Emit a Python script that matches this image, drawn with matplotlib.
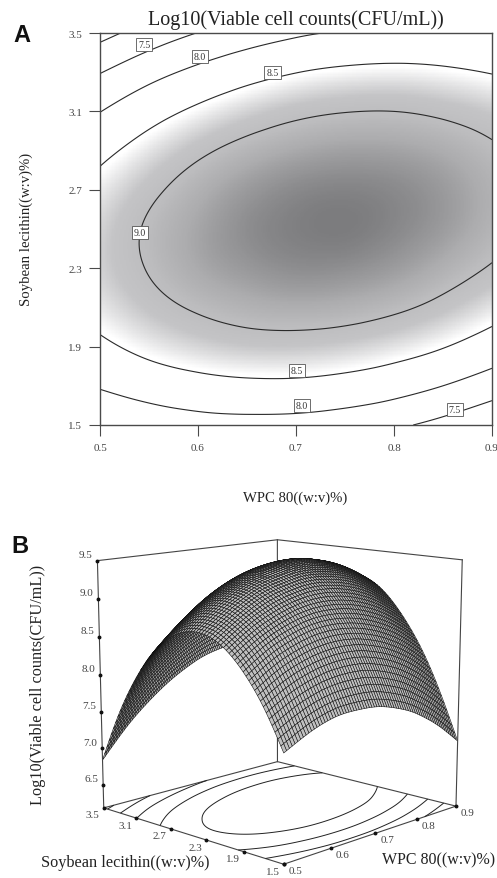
import numpy as np
import matplotlib
matplotlib.use('Agg')
import matplotlib.pyplot as plt
import matplotlib.tri as mtri
from matplotlib.colors import LinearSegmentedColormap
from mpl_toolkits.mplot3d import proj3d

plt.rcParams['font.family'] = ['Liberation Serif', 'DejaVu Serif']

W, H = 497, 879

# values, rows are wpc, columns are lecithin
wpc = [0.50, 0.55, 0.60, 0.65, 0.70, 0.75, 0.80, 0.85, 0.90]
lecithin = [1.5, 1.7, 1.9, 2.1, 2.3, 2.5, 2.7, 2.9, 3.1, 3.3, 3.5]
counts = [
    [7.54, 8.04, 8.41, 8.66, 8.78, 8.77, 8.64, 8.38, 7.99, 7.48, 6.84],
    [7.70, 8.22, 8.62, 8.88, 9.02, 9.04, 8.92, 8.68, 8.32, 7.83, 7.21],
    [7.81, 8.34, 8.76, 9.04, 9.21, 9.24, 9.15, 8.93, 8.58, 8.11, 7.51],
    [7.84, 8.40, 8.84, 9.14, 9.32, 9.38, 9.31, 9.11, 8.78, 8.33, 7.75],
    [7.82, 8.40, 8.85, 9.18, 9.38, 9.45, 9.40, 9.22, 8.92, 8.49, 7.93],
    [7.73, 8.33, 8.80, 9.15, 9.37, 9.47, 9.43, 9.27, 8.99, 8.58, 8.04],
    [7.58, 8.20, 8.69, 9.06, 9.30, 9.41, 9.40, 9.26, 9.00, 8.61, 8.09],
    [7.36, 8.00, 8.52, 8.90, 9.16, 9.30, 9.31, 9.19, 8.94, 8.57, 8.08],
    [7.08, 7.74, 8.28, 8.68, 8.97, 9.12, 9.15, 9.05, 8.83, 8.48, 8.00],
]
levels = [7.0, 7.5, 8.0, 8.5, 9.0]
wpc_ticks = [0.5, 0.6, 0.7, 0.8, 0.9]
lecithin_ticks = [1.5, 1.9, 2.3, 2.7, 3.1, 3.5]
count_ticks = [6.5, 7.0, 7.5, 8.0, 8.5, 9.0, 9.5]
# contour labels: value, wpc, lecithin
label_vals = [7.5, 8.0, 8.5, 9.0, 8.5, 8.0, 7.5]
label_wpc = [0.545, 0.602, 0.676, 0.541, 0.701, 0.706, 0.862]
label_lec = [3.44, 3.38, 3.30, 2.48, 1.78, 1.60, 1.58]

TITLE = 'Log10(Viable cell counts(CFU/mL))'
GREY = '#4a4a4a'


def fx(px):
    return px / W


def fy(py):
    return 1 - py / H


# smooth the read table with matplotlib's own cubic interpolator
gx, gy = np.meshgrid(wpc, lecithin, indexing='ij')
tri = mtri.Triangulation(gx.ravel(), gy.ravel())
interp = mtri.CubicTriInterpolator(tri, np.array(counts).ravel(), kind='min_E')


def fine_grid(n):
    xs = np.linspace(wpc[0] + 1e-6, wpc[-1] - 1e-6, n)
    ys = np.linspace(lecithin[0] + 1e-6, lecithin[-1] - 1e-6, n)
    X, Y = np.meshgrid(xs, ys)
    return X, Y, np.ma.filled(interp(X, Y), np.nan)


fig = plt.figure(figsize=(W / 100, H / 100), dpi=100)

# panel A
ax = fig.add_axes([fx(100), fy(426), fx(392), 392 / H])
X, Y, Z = fine_grid(300)
cmap = LinearSegmentedColormap.from_list('shade', [
    (0.0, '#ffffff'), (0.09, '#ffffff'), (0.24, '#e2e2e3'), (0.40, '#c4c4c6'),
    (0.58, '#bcbcbe'), (0.74, '#acacae'), (0.88, '#949496'), (1.0, '#7c7c7e')])
ax.pcolormesh(X, Y, Z, cmap=cmap, vmin=8.45, vmax=9.47, shading='auto', rasterized=True)
ax.contour(X, Y, Z, levels=levels, colors='#2a2a2a', linewidths=0.8)
for val, lx, ly in zip(label_vals, label_wpc, label_lec):
    ax.text(lx, ly, f'{val:.1f}', ha='center', va='center', fontsize=7, color='#333333',
            bbox=dict(facecolor='white', edgecolor='#555555', linewidth=0.6, pad=1.5), zorder=5)
ax.set_xlim(0.5, 0.9)
ax.set_ylim(1.5, 3.5)
ax.set_xticks(wpc_ticks)
ax.set_yticks(lecithin_ticks)
ax.set_xticklabels([f'{t:.1f}' for t in wpc_ticks], clip_on=False)
ax.set_yticklabels([f'{t:.1f}' for t in lecithin_ticks])
ax.tick_params(length=8, width=0.8, color=GREY, labelcolor='#444444', labelsize=8, pad=5)
for s in ax.spines.values():
    s.set_color(GREY)
    s.set_linewidth(1.0)

fig.text(fx(296), fy(20), TITLE, ha='center', va='center', fontsize=14.5, color='#222222')
fig.text(fx(295), fy(498), 'WPC 80((w:v)%)', ha='center', va='center', fontsize=10.6, color='#222222')
fig.text(fx(26), fy(229), 'Soybean lecithin((w:v)%)', rotation=90, ha='center', va='center',
         fontsize=10.6, color='#222222')
fig.text(fx(13), fy(35), 'A', family='Liberation Sans', weight='bold', fontsize=17, va='center', color='#111111')
fig.text(fx(11), fy(547), 'B', family='Liberation Sans', weight='bold', fontsize=17, va='center', color='#111111')

# panel B
box = 460
ax3 = fig.add_axes([fx(44), fy(923), box / W, box / H], projection='3d')
ax3.set_proj_type('persp', focal_length=0.6)
ax3.view_init(elev=12, azim=-136)
ax3.set_box_aspect((1, 1, 0.995), zoom=0.925)
ax3.set_axis_off()
ax3.computed_zorder = False
x0, x1 = wpc[0], wpc[-1]
y0, y1 = lecithin[0], lecithin[-1]
z0, z1 = 6.18, 9.5
ax3.set_xlim(x0, x1)
ax3.set_ylim(y0, y1)
ax3.set_zlim(z0, z1)
ax3.patch.set_alpha(0)

frame = dict(color='#444444', lw=0.8)
ax3.plot([x0, x1, x1], [y1, y1, y0], [z1, z1, z1], zorder=1, **frame)
ax3.plot([x1, x1], [y1, y1], [z0, z1], zorder=1, **frame)
ax3.plot([x0, x1, x1, x0, x0], [y0, y0, y1, y1, y0], [z0] * 5, zorder=1, **frame)

Xf, Yf, Zf = fine_grid(200)
ax3.contour(Xf, Yf, Zf, levels=levels, zdir='z', offset=z0, colors='#222222', linewidths=0.7, zorder=1.5)

Xm, Ym, Zm = fine_grid(71)
ax3.plot_surface(Xm, Ym, Zm, rstride=1, cstride=1, color='#c0c0c0', edgecolor='#111111',
                 linewidth=0.4, shade=False, antialiased=True, zorder=2)

ax3.plot([x0, x0], [y1, y1], [z0, z1], zorder=3, **frame)
ax3.plot([x1, x1], [y0, y0], [z0, z1], zorder=3, **frame)


def tick3(x, y, z, text, dx, dy):
    ax3.plot([x], [y], [z], 'o', ms=1.8, color='#111111', zorder=4)
    xp, yp, _ = proj3d.proj_transform(x, y, z, ax3.get_proj())
    ax3.annotate(text, (xp, yp), xytext=(dx, dy), textcoords='offset pixels', ha='center', va='center',
                 fontsize=8, color='#444444', annotation_clip=False)


for t in count_ticks:
    tick3(x0, y1, t, f'{t:.1f}', -12, 6)
for t in lecithin_ticks:
    tick3(x0, t, z0, f'{t:.1f}', -11, -7)
for t in wpc_ticks:
    tick3(t, y0, z0, f'{t:.1f}', 12, -6.5)

fig.text(fx(38), fy(685), TITLE, rotation=90, ha='center', va='center', fontsize=11.7, color='#222222')
fig.text(fx(125), fy(863), 'Soybean lecithin((w:v)%)', ha='center', va='center', fontsize=11.7, color='#222222')
fig.text(fx(439), fy(860), 'WPC 80((w:v)%)', ha='center', va='center', fontsize=11.5, color='#222222')

fig.savefig('out.png', dpi=100)
